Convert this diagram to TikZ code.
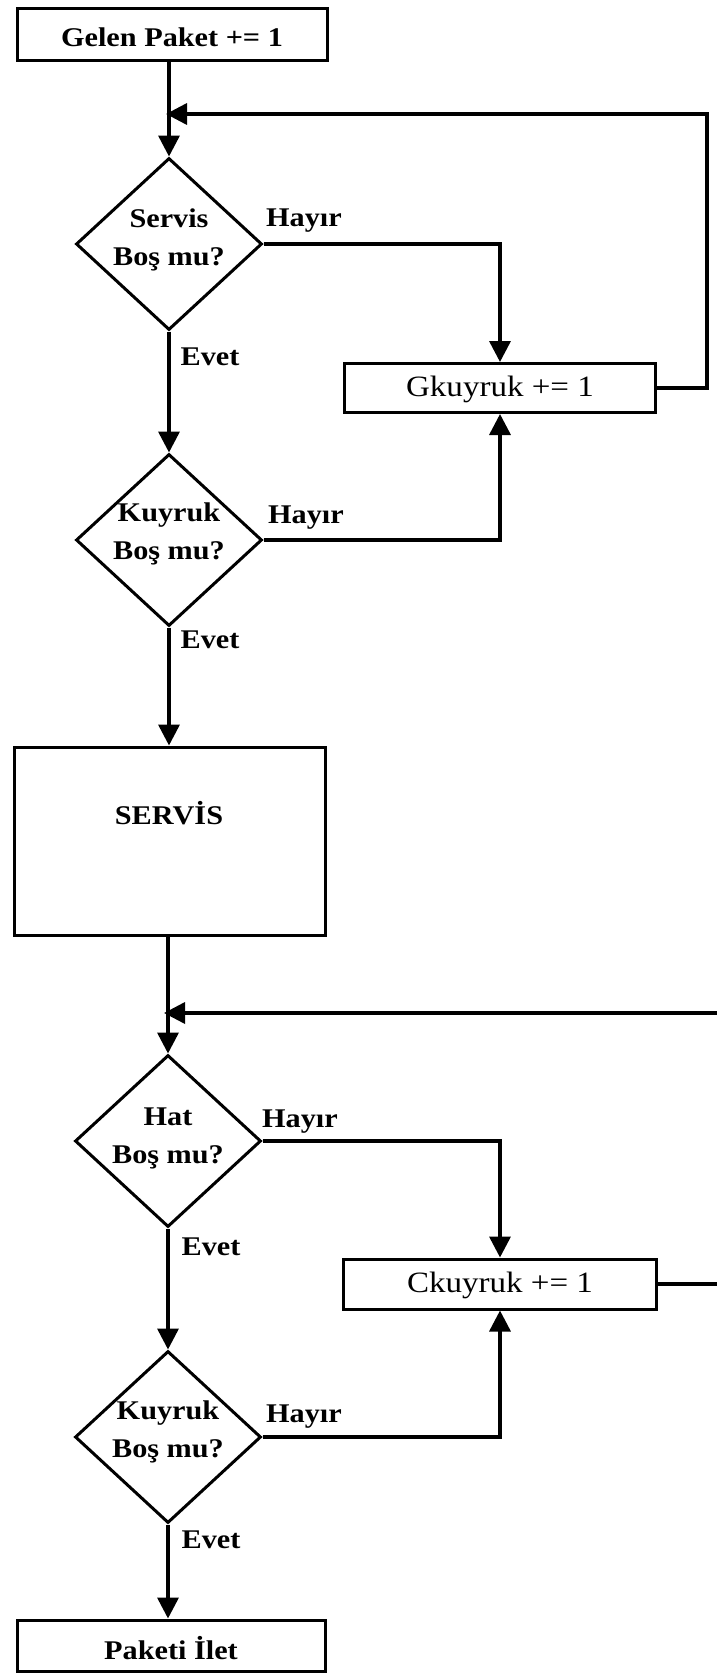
\documentclass[tikz,border=0pt]{standalone}
\usepackage{fontspec}
\setmainfont{Liberation Serif}[FakeStretch=1.12]
\usetikzlibrary{shapes.geometric,arrows.meta}

\tikzset{
  txt/.style={font=\fontsize{27}{38}\selectfont\bfseries, inner sep=0pt, align=center},
  txtlight/.style={font=\fontsize{29.5}{38}\selectfont, inner sep=0pt, align=center},
  procbox/.style={draw, line width=3pt, rectangle, inner sep=0pt},
  decision/.style={draw, line width=3pt, diamond, inner sep=0pt,
    minimum width=186pt, minimum height=172pt},
  flow/.style={line width=3.5pt},
  arr/.style={flow, -{Triangle[length=21pt,width=21pt]}},
}

\begin{document}
\begin{tikzpicture}[x=1pt,y=-1pt]
  \useasboundingbox (0,0) rectangle (717,1673);
  \fill[white] (0,0) rectangle (717,1673);
  \begin{scope}
  \clip (0,0) rectangle (717,1673);

  % --- boxes and decisions ---
  \node[procbox, minimum width=310pt, minimum height=52pt] (top) at (172,34) {};
  \node[txt] (topt) at (172,37) {Gelen Paket += 1};

  \node[decision] (d1) at (169,244) {};
  \node[txt] (d1t) at (169,240) {Servis\\Boş mu?};

  \node[procbox, minimum width=311pt, minimum height=49pt] (gq) at (500,388) {};
  \node[txtlight] (gqt) at (500,389) {Gkuyruk += 1};

  \node[decision] (d2) at (169,540) {};
  \node[txt] (d2t) at (169,534) {Kuyruk\\Boş mu?};

  \node[procbox, minimum width=311pt, minimum height=188pt] (servis) at (169.5,841) {};
  \node[txt] (servist) at (169,813) {SERVİS};

  \node[decision] (d3) at (168,1141) {};
  \node[txt] (d3t) at (168,1138) {Hat\\Boş mu?};

  \node[procbox, minimum width=313pt, minimum height=50pt] (cq) at (500,1284) {};
  \node[txtlight] (cqt) at (500,1285) {Ckuyruk += 1};

  \node[decision] (d4) at (168,1437) {};
  \node[txt] (d4t) at (168,1432) {Kuyruk\\Boş mu?};

  \node[procbox, minimum width=308pt, minimum height=51pt] (paket) at (171,1645.5) {};
  \node[txt] (pakett) at (171,1648) {Paketi İlet};

  % --- turning points of the two loops ---
  \coordinate (r1) at (707,114);
  \coordinate (r2) at (740,1013);

  % --- main column ---
  \draw[arr] (top.south -| d1.north) -- (d1.north);
  \draw[arr] (d1.south) -- (d2.north);
  \draw[arr] (d2.south) -- (servis.north -| d2.south);
  \draw[arr] (servis.south -| d3.north) -- (d3.north);
  \draw[arr] (d3.south) -- (d4.north);
  \draw[arr] (d4.south) -- (paket.north -| d4.south);

  % --- "no" branches ---
  \draw[arr] (d1.east) -| (gq.north);
  \draw[arr] (d2.east) -| (gq.south);
  \draw[arr] (d3.east) -| (cq.north);
  \draw[arr] (d4.east) -| (cq.south);

  % --- loops back to the main column ---
  \draw[arr, shorten >=-3pt] (gq.east) -| (r1) -- (r1 -| d1.north);
  \draw[arr, shorten >=-4pt] (cq.east) -| (r2) -- (r2 -| d3.north);

  % --- branch labels ---
  \node[txt] (h1) at (304,221) {Hayır};
  \node[txt] (e1) at (210,357) {Evet};
  \node[txt] (h2) at (306,518) {Hayır};
  \node[txt] (e2) at (210,640) {Evet};
  \node[txt] (h3) at (300,1122) {Hayır};
  \node[txt] (e3) at (211,1247) {Evet};
  \node[txt] (h4) at (304,1417) {Hayır};
  \node[txt] (e4) at (211,1540) {Evet};
  \end{scope}
\end{tikzpicture}
\end{document}
